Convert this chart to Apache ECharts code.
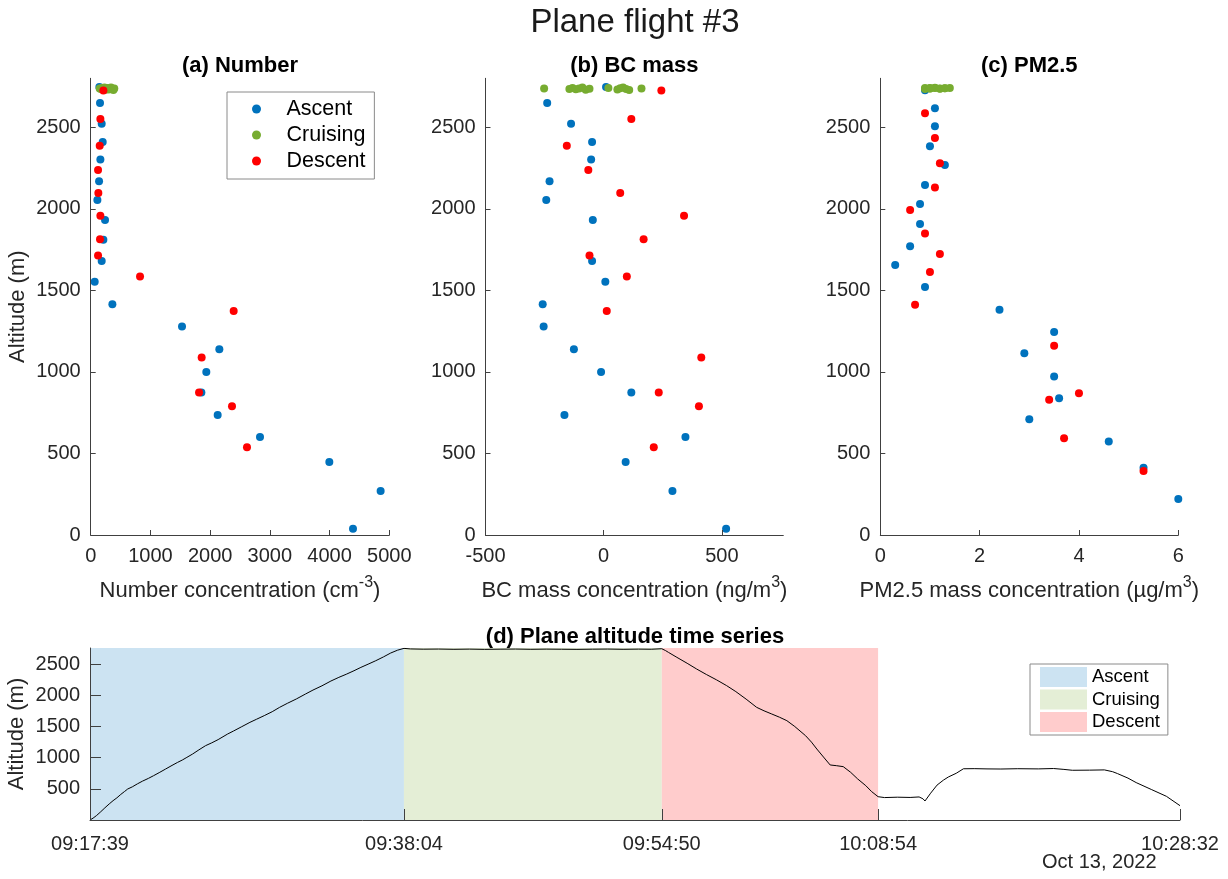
<!DOCTYPE html>
<html>
<head>
<meta charset="utf-8">
<title>Plane flight #3</title>
<script src="https://cdn.jsdelivr.net/npm/echarts@6/dist/echarts.min.js"></script>
<style>
  html, body { margin: 0; padding: 0; background: #ffffff; }
  #chart { width: 1228px; height: 879px; }
</style>
</head>
<body>
<div id="chart"></div>
<script>
// ---------- data ----------
const phaseNames = ['Ascent', 'Cruising', 'Descent'];

// Number concentration (cm^-3) and BC mass (ng/m^3) share the same sampling altitudes
const ascentAlt = [2747, 2649, 2522, 2410, 2302, 2169, 2054, 1931, 1810, 1680, 1553, 1414, 1279, 1139, 1000, 874, 736, 601, 448, 270, 39];
const cruiseAlt = [2738, 2735, 2741, 2733, 2737, 2744, 2730, 2736, 2740, 2732, 2739, 2743, 2734, 2729, 2737];
const descentAlt = [2725, 2551, 2387, 2238, 2097, 1958, 1813, 1714, 1585, 1373, 1088, 874, 790, 538];

const numAscent = [145, 156, 184, 201, 162, 140, 112, 240, 212, 184, 67, 363, 1529, 2154, 1936, 1853, 2126, 2835, 3996, 4855, 4392];
const numCruise = [150, 170, 185, 200, 215, 230, 245, 260, 280, 300, 320, 340, 360, 380, 395];
const numDescent = [212, 162, 151, 123, 128, 162, 156, 123, 826, 2394, 1858, 1814, 2366, 2617];

const bcAscent = [10, -239, -138, -49, -53, -229, -243, -46, null, -49, 7, -258, -254, -126, -11, 117, -166, 346, 93, 291, 518];
const bcCruise = [-252, -145, -132, -118, -104, -90, -76, -60, 20, 58, 70, 82, 95, 108, 160];
const bcDescent = [244, 117, -156, -65, 70, 340, 169, -60, 98, 13, 413, 233, 403, 212];

// PM2.5 mass (ug/m^3) with its own sampling altitudes
const pmAscentAlt = [2727, 2617, 2506, 2383, 2269, 2146, 2029, 1907, 1770, 1655, 1520, 1381, 1244, 1115, 972, 839, 710, 573, 413, 221];
const pmAscent = [0.9, 1.1, 1.1, 1.0, 1.3, 0.9, 0.8, 0.8, 0.6, 0.3, 0.9, 2.4, 3.5, 2.9, 3.5, 3.6, 3.0, 4.6, 5.3, 6.0];
const pmCruiseAlt = [2740, 2737, 2742, 2736, 2739, 2741, 2735, 2738, 2740, 2737, 2739, 2741];
const pmCruise = [0.9, 1.0, 1.1, 1.2, 1.3, 1.4, 0.9, 1.0, 1.1, 1.2, 1.3, 1.0];
const pmDescentAlt = [2586, 2434, 2279, 2130, 1993, 1849, 1723, 1612, 1412, 1160, 869, 829, 593, 393];
const pmDescent = [0.9, 1.1, 1.2, 1.1, 0.6, 0.9, 1.2, 1.0, 0.7, 3.5, 4.0, 3.4, 3.7, 5.3];

// Flight track: seconds after take-off and altitude (m)
const trackStart = '09:17:39';
const trackElapsed = [
  0, 12, 25, 40, 58, 75, 90, 105, 120, 135, 147, 165, 185, 205, 228, 248, 270, 295, 320, 342,
  360, 378, 400, 425, 451, 475, 500, 537, 560, 590, 624, 650, 680, 711, 740, 770, 805, 841, 870, 905,
  940, 971, 1000, 1030, 1057, 1085, 1115, 1145, 1173, 1200, 1225,
  1250, 1300, 1360, 1420, 1480, 1540, 1600, 1660, 1720, 1780, 1840, 1900, 1960, 2020, 2080, 2140, 2190, 2231,
  2245, 2257, 2290, 2330, 2367, 2405, 2445, 2484, 2520, 2560, 2601, 2630, 2660, 2690, 2719, 2750, 2792, 2815,
  2836, 2862, 2888, 2912, 2939, 2968, 2995, 3027, 3050, 3075,
  3100, 3150, 3200, 3235, 3250, 3258, 3280, 3305, 3330, 3349, 3380, 3408, 3450, 3500, 3554, 3620, 3700, 3760,
  3800, 3833, 3900, 3958, 3990, 4009, 4050, 4082, 4141, 4200, 4253
];
const trackAlt = [
  0, 30, 70, 125, 195, 258, 310, 356, 410, 458, 497, 532, 580, 624, 668, 711, 760, 818, 876, 925,
  962, 1005, 1058, 1126, 1193, 1238, 1290, 1380, 1428, 1493, 1567, 1617, 1675, 1738, 1808, 1872, 1942, 2022, 2085, 2153,
  2230, 2289, 2339, 2395, 2449, 2500, 2556, 2617, 2679, 2725, 2754,
  2745, 2741, 2743, 2739, 2742, 2738, 2741, 2743, 2739, 2742, 2740, 2738, 2741, 2743, 2739, 2742, 2740, 2748,
  2720, 2690, 2610, 2515, 2423, 2335, 2248, 2156, 2060, 1940, 1808, 1752, 1701, 1650, 1594, 1500, 1353, 1250,
  1139, 1010, 883, 872, 856, 765, 660, 551, 455, 374,
  360, 366, 362, 370, 340, 305, 430, 560, 640, 690, 750, 822, 824, 820, 818, 823, 820, 826,
  812, 798, 800, 804, 775, 745, 672, 600, 490, 380, 230
];

// Flight phase boundaries and axis ticks
const phaseBounds = ['09:17:39', '09:38:04', '09:54:50', '10:08:54'];
const trackEnd = '10:28:32';
const flightDate = 'Oct 13, 2022';
const altTicks = [0, 500, 1000, 1500, 2000, 2500];
const trackAltTicks = [500, 1000, 1500, 2000, 2500];

// ---------- styling ----------
const FONT = '"Liberation Sans", Arial, Helvetica, sans-serif';
const AXIS_COLOR = '#404040';
const TEXT_COLOR = '#262626';
const markerColors = ['#0072BD', '#77AC30', '#FF0000'];
const shadeColors = ['#CCE3F2', '#E4EED6', '#FFCCCC'];

function toSec(clock) {
  const p = clock.split(':').map(Number);
  return p[0] * 3600 + p[1] * 60 + p[2];
}
function toClock(sec) {
  const h = Math.floor(sec / 3600), m = Math.floor((sec % 3600) / 60), s = Math.round(sec % 60);
  return [h, m, s].map(v => String(v).padStart(2, '0')).join(':');
}
function ticksFrom(min, max, step) {
  const out = [];
  for (let v = min; v <= max + 1e-9; v += step) out.push(+v.toFixed(6));
  return out;
}
function pairs(xs, ys) {
  const out = [];
  xs.forEach((x, i) => { if (x !== null && ys[i] !== null) out.push([x, ys[i]]); });
  return out;
}

function baseAxis(tickLen, tickValues, labelMargin) {
  return {
    type: 'value',
    z: 10,
    axisLine: { show: true, onZero: false, lineStyle: { color: AXIS_COLOR, width: 1 } },
    axisTick: { show: true, inside: true, length: tickLen, customValues: tickValues,
                lineStyle: { color: AXIS_COLOR, width: 1 } },
    axisLabel: { show: true, customValues: tickValues, color: TEXT_COLOR, fontSize: 20,
                 fontFamily: FONT, margin: labelMargin, hideOverlap: false,
                 formatter: v => String(v) },
    splitLine: { show: false },
    nameMoveOverlap: false
  };
}

const panelRect = [
  { left: 90.7, top: 78.3, width: 298.6, height: 456.7 },
  { left: 485.5, top: 78.3, width: 297.8, height: 456.7 },
  { left: 880.3, top: 78.3, width: 298, height: 456.7 },
  { left: 90, top: 648, width: 1090, height: 172 }
];
const xRange = [[0, 5000, 1000], [-500, 760, 500], [0, 6, 2]];
const xNames = [
  'Number concentration (cm{sup|-3})',
  'BC mass concentration (ng/m{sup|3})',
  'PM2.5 mass concentration (µg/m{sup|3})'
];
const panelTitles = ['(a) Number', '(b) BC mass', '(c) PM2.5'];

const nameStyle = {
  fontSize: 22, color: TEXT_COLOR, fontFamily: FONT, lineHeight: 32,
  rich: { sup: { fontSize: 16, fontFamily: FONT, color: TEXT_COLOR, verticalAlign: 'top', lineHeight: 16 } }
};

const grid = panelRect.map(r => Object.assign({ containLabel: false, outerBoundsMode: 'none' }, r));

const xAxis = [];
const yAxis = [];
for (let p = 0; p < 3; p++) {
  const [mn, mx, st] = xRange[p];
  const xa = baseAxis(5, ticksFrom(mn, Math.floor(mx / st) * st, st), 11);
  Object.assign(xa, { gridIndex: p, min: mn, max: mx, name: xNames[p], nameLocation: 'middle',
                      nameGap: 40, nameTextStyle: nameStyle });
  xAxis.push(xa);
  const ya = baseAxis(5, altTicks, 10);
  Object.assign(ya, { gridIndex: p, min: 0, max: 2800 });
  if (p === 0) Object.assign(ya, { name: 'Altitude (m)', nameLocation: 'middle', nameGap: 62,
                                   nameTextStyle: { fontSize: 22, color: TEXT_COLOR, fontFamily: FONT } });
  yAxis.push(ya);
}
// time-series panel
const t0 = toSec(trackStart);
const timeTicks = phaseBounds.concat([trackEnd]).map(toSec);
const xt = baseAxis(11, timeTicks, 14);
Object.assign(xt, { gridIndex: 3, min: toSec(phaseBounds[0]), max: toSec(trackEnd) });
xt.axisLabel.formatter = v => toClock(v);
xAxis.push(xt);
const yt = baseAxis(11, trackAltTicks, 10);
Object.assign(yt, { gridIndex: 3, min: 0, max: 2760, name: 'Altitude (m)', nameLocation: 'middle', nameGap: 62,
                    nameTextStyle: { fontSize: 22, color: TEXT_COLOR, fontFamily: FONT } });
yAxis.push(yt);

// ---------- series ----------
const panelData = [
  [[numAscent, ascentAlt], [numCruise, cruiseAlt], [numDescent, descentAlt]],
  [[bcAscent, ascentAlt], [bcCruise, cruiseAlt], [bcDescent, descentAlt]],
  [[pmAscent, pmAscentAlt], [pmCruise, pmCruiseAlt], [pmDescent, pmDescentAlt]]
];
const series = [];
for (let p = 0; p < 3; p++) {
  for (let k = 0; k < 3; k++) {
    series.push({
      type: 'scatter', name: phaseNames[k], xAxisIndex: p, yAxisIndex: p,
      data: pairs(panelData[p][k][0], panelData[p][k][1]),
      symbol: 'circle', symbolSize: 8, z: 2 + k,
      itemStyle: { color: markerColors[k], opacity: 1 },
      emphasis: { disabled: true }
    });
  }
}
// shaded flight phases
for (let k = 0; k < 3; k++) {
  series.push({
    type: 'line', name: phaseNames[k] + ' phase', xAxisIndex: 3, yAxisIndex: 3,
    data: [], z: 1,
    itemStyle: { color: shadeColors[k], borderWidth: 0 },
    lineStyle: { color: shadeColors[k] },
    markArea: {
      silent: true,
      itemStyle: { color: shadeColors[k], borderWidth: 0 },
      data: [[{ xAxis: toSec(phaseBounds[k]) }, { xAxis: toSec(phaseBounds[k + 1]) }]]
    }
  });
}
series.push({
  type: 'line', name: 'Altitude', xAxisIndex: 3, yAxisIndex: 3, z: 5,
  data: trackElapsed.map((t, i) => [t0 + t, trackAlt[i]]),
  showSymbol: false, symbol: 'none',
  lineStyle: { color: '#000000', width: 1 },
  emphasis: { disabled: true }
});

// ---------- titles and legends ----------
const title = [
  { text: 'Plane flight #3', left: 635, top: 23 },
  { text: panelTitles[0], left: 240, top: 66 },
  { text: panelTitles[1], left: 634.4, top: 66 },
  { text: panelTitles[2], left: 1029.3, top: 66 },
  { text: '(d) Plane altitude time series', left: 635, top: 637 },
  { text: flightDate, left: 1042, top: 862 }
].map((t, i) => ({
  text: t.text, left: t.left, top: t.top, padding: 0,
  textAlign: i === 5 ? 'left' : 'center', textVerticalAlign: 'middle',
  textStyle: i === 0 ? { fontSize: 33, fontWeight: 'normal', color: '#1a1a1a', fontFamily: FONT }
           : i === 5 ? { fontSize: 20, fontWeight: 'normal', color: TEXT_COLOR, fontFamily: FONT }
           : { fontSize: 22, fontWeight: 'bold', color: '#000000', fontFamily: FONT }
}));

const legend = [
  {
    orient: 'vertical', left: 227, top: 92,
    data: phaseNames, icon: 'circle', itemWidth: 50, itemHeight: 9, itemGap: 4,
    padding: [6, 9, 7, 25], borderColor: '#8a8a8a', borderWidth: 1, borderRadius: 0,
    backgroundColor: '#ffffff', selectedMode: false,
    textStyle: { fontSize: 21.5, lineHeight: 22, color: '#000000', fontFamily: FONT }
  },
  {
    orient: 'vertical', left: 1030, top: 664,
    data: phaseNames.map(n => n + ' phase'), icon: 'rect', itemWidth: 47, itemHeight: 20, itemGap: 2.5,
    padding: [3, 8, 3, 10], borderColor: '#8a8a8a', borderWidth: 1, borderRadius: 0,
    backgroundColor: '#ffffff', selectedMode: false,
    formatter: n => n.split(' ')[0],
    textStyle: { fontSize: 18.5, lineHeight: 20, color: '#000000', fontFamily: FONT }
  }
];

const chart = echarts.init(document.getElementById('chart'), null, { renderer: 'canvas' });
chart.setOption({
  animation: false,
  backgroundColor: '#ffffff',
  textStyle: { fontFamily: FONT },
  title, legend, grid, xAxis, yAxis, series,
  tooltip: { show: false }
});
</script>
</body>
</html>
